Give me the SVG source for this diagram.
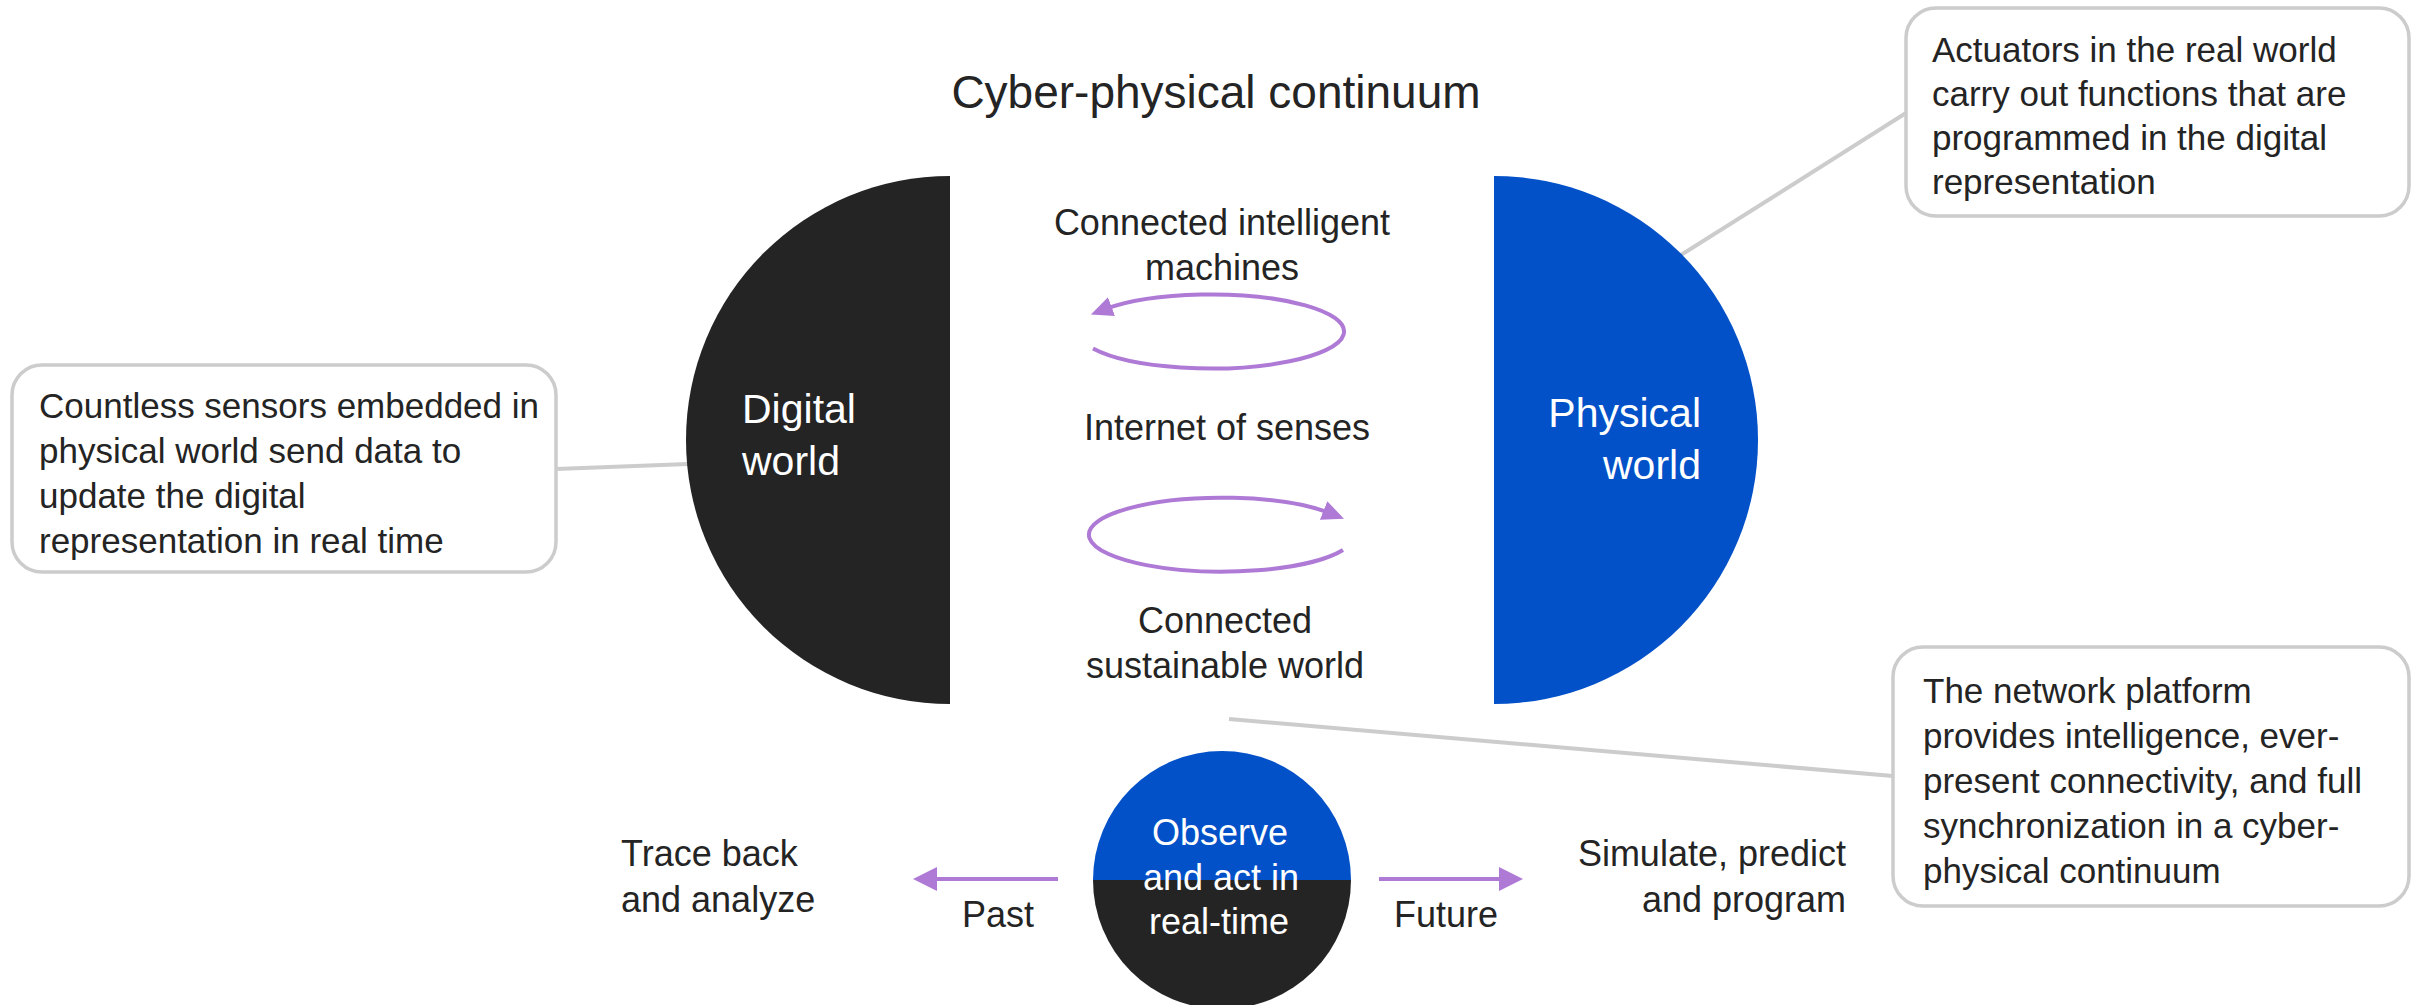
<svg xmlns="http://www.w3.org/2000/svg" width="2423" height="1005" viewBox="0 0 2423 1005">
<style>
  text { font-family: "Liberation Sans", Arial, sans-serif; fill: #242424; }
  .title { font-size: 46px; }
  .lbl { font-size: 36px; }
  .box-t { font-size: 35px; }
  .world { font-size: 41px; fill: #ffffff; }
  .wt { font-size: 36px; fill: #ffffff; }
  .mid { text-anchor: middle; }
  .end { text-anchor: end; }
  .box { fill: #ffffff; stroke: #cccccc; stroke-width: 3.5; }
  .lead { stroke: #cccccc; stroke-width: 4; fill: none; }
  .loop { stroke: #af7ad6; stroke-width: 4; fill: none; }
  .dark { fill: #242424; }
  .blue { fill: #0251c8; }
</style>
<defs>
  <marker id="loopHead" viewBox="0 0 22 20" refX="8" refY="10" markerWidth="22" markerHeight="20" markerUnits="userSpaceOnUse" orient="auto">
    <path d="M0,0 L22,10 L0,20 Z" fill="#af7ad6"/>
  </marker>
  <marker id="timeHead" viewBox="0 0 24 24" refX="4" refY="12" markerWidth="24" markerHeight="24" markerUnits="userSpaceOnUse" orient="auto">
    <path d="M0,0 L24,12 L0,24 Z" fill="#af7ad6"/>
  </marker>
</defs>
<rect width="2423" height="1005" fill="#ffffff"/>

<text class="title mid" x="1216" y="108">Cyber-physical continuum</text>

<g id="connectors">
  <line class="lead" x1="556" y1="469" x2="688" y2="464"/>
  <line class="lead" x1="1906" y1="113" x2="1681" y2="255"/>
  <line class="lead" x1="1229" y1="719" x2="1893" y2="776"/>
  <path class="loop" d="M1093,348.5 A133,37 0 1 0 1104,309.5" marker-end="url(#loopHead)"/>
  <path class="loop" d="M1343,550 A133,37 0 1 1 1331,513.5" marker-end="url(#loopHead)"/>
  <line class="loop" x1="1058" y1="879" x2="933" y2="879" marker-end="url(#timeHead)"/>
  <line class="loop" x1="1379" y1="879" x2="1503" y2="879" marker-end="url(#timeHead)"/>
</g>

<g id="digital-world">
  <path class="dark" d="M950,176 A264,264 0 0 0 950,704 Z"/>
  <text class="world" x="742" y="423">Digital</text>
  <text class="world" x="742" y="475">world</text>
</g>

<g id="physical-world">
  <path class="blue" d="M1494,176 A264,264 0 0 1 1494,704 Z"/>
  <text class="world end" x="1701" y="427">Physical</text>
  <text class="world end" x="1701" y="479">world</text>
</g>

<g id="connected-machines">
  <text class="lbl mid" x="1222" y="235">Connected intelligent</text>
  <text class="lbl mid" x="1222" y="280">machines</text>
</g>

<g id="internet-of-senses">
  <text class="lbl mid" x="1227" y="440">Internet of senses</text>
</g>

<g id="connected-sustainable">
  <text class="lbl mid" x="1225" y="633">Connected</text>
  <text class="lbl mid" x="1225" y="678">sustainable world</text>
</g>

<g id="observe">
  <path class="blue" d="M1093,880 A129,129 0 0 1 1351,880 Z"/>
  <path class="dark" d="M1093,880 A129,129 0 0 0 1351,880 Z"/>
  <text class="wt mid" x="1220" y="845">Observe</text>
  <text class="wt mid" x="1221" y="890">and act in</text>
  <text class="wt mid" x="1219" y="934">real-time</text>
</g>

<g id="past">
  <text class="lbl mid" x="998" y="927">Past</text>
</g>
<g id="future">
  <text class="lbl mid" x="1446" y="927">Future</text>
</g>

<g id="trace-back">
  <text class="lbl" x="621" y="866">Trace back</text>
  <text class="lbl" x="621" y="912">and analyze</text>
</g>

<g id="simulate">
  <text class="lbl end" x="1846" y="866">Simulate, predict</text>
  <text class="lbl end" x="1846" y="912">and program</text>
</g>

<g id="sensors-box">
  <rect class="box" x="12" y="365" width="544" height="207" rx="30"/>
  <text class="box-t" x="39" y="418">Countless sensors embedded in</text>
  <text class="box-t" x="39" y="463">physical world send data to</text>
  <text class="box-t" x="39" y="508">update the digital</text>
  <text class="box-t" x="39" y="553">representation in real time</text>
</g>

<g id="actuators-box">
  <rect class="box" x="1906" y="8" width="503" height="208" rx="30"/>
  <text class="box-t" x="1932" y="62">Actuators in the real world</text>
  <text class="box-t" x="1932" y="106">carry out functions that are</text>
  <text class="box-t" x="1932" y="150">programmed in the digital</text>
  <text class="box-t" x="1932" y="194">representation</text>
</g>

<g id="network-box">
  <rect class="box" x="1893" y="647" width="516" height="259" rx="30"/>
  <text class="box-t" x="1923" y="703">The network platform</text>
  <text class="box-t" x="1923" y="748">provides intelligence, ever-</text>
  <text class="box-t" x="1923" y="793">present connectivity, and full</text>
  <text class="box-t" x="1923" y="838">synchronization in a cyber-</text>
  <text class="box-t" x="1923" y="883">physical continuum</text>
</g>
</svg>
